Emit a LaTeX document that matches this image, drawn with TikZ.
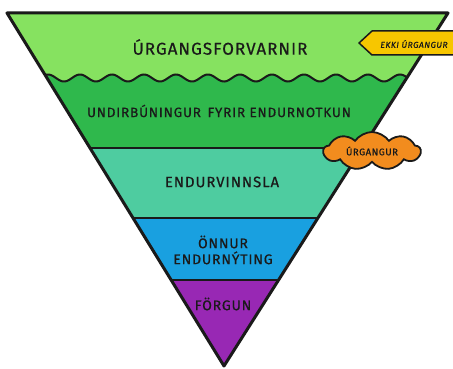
\documentclass[tikz,border=0pt]{standalone}
\usepackage{fontspec}
\setmainfont{Fira Sans}
\newfontfamily\hand[LetterSpace=6,FakeBold=0.6]{Fira Sans}
\usetikzlibrary{shapes.symbols}
\definecolor{bandA}{HTML}{86E260}
\definecolor{bandB}{HTML}{2FB84C}
\definecolor{bandC}{HTML}{4ECCA0}
\definecolor{bandD}{HTML}{19A0E0}
\definecolor{bandE}{HTML}{9828B4}
\definecolor{signY}{HTML}{F7C600}
\definecolor{cloudO}{HTML}{F28C1E}
\definecolor{ink}{HTML}{1A1A1A}
\tikzset{
  lbl/.style={text=ink, inner sep=0pt, align=center},
  sep/.style={draw=ink, line width=2pt},
}
\begin{document}
\begin{tikzpicture}[x=1pt,y=-1pt]
\useasboundingbox (0,0) rectangle (453,369);
\fill[white] (0,0) rectangle (453,369);
\coordinate (TL) at (7,13);
\coordinate (TR) at (448,13);
\coordinate (B) at (224,366);
\begin{scope}
  \clip (TL) -- (TR) -- (B) -- cycle;
  \fill[bandA] (0,0) rectangle (453,90);
  \fill[bandB] plot[domain=0:453,samples=300] (\x,{78+3.5*cos(\x*11.25)}) -- (453,148) -- (0,148) -- cycle;
  \fill[bandC] (0,148) rectangle (453,218);
  \fill[bandD] (0,218) rectangle (453,280);
  \fill[bandE] (0,280) rectangle (453,370);
  \draw[sep] plot[domain=0:453,samples=300] (\x,{78+3.5*cos(\x*11.25)});
  \draw[sep] (0,148) -- (453,148);
  \draw[sep] (0,218) -- (453,218);
  \draw[sep] (0,280) -- (453,280);
\end{scope}
\draw[ink, line width=3pt, line join=round] (TL) -- (TR) -- (B) -- cycle;

\node[lbl, font=\hand\fontsize{17}{17}\selectfont] (t1) at (220,47) {ÚRGANGSFORVARNIR};
\node[lbl, font=\hand\fontsize{13.5}{13.5}\selectfont] (t2) at (219,111) {UNDIRBÚNINGUR\, FYRIR ENDURNOTKUN};
\node[lbl, font=\hand\fontsize{15}{15}\selectfont] (t3) at (222,182) {ENDURVINNSLA};
\node[lbl, font=\hand\fontsize{14}{16}\selectfont] (t4) at (223,250) {ÖNNUR\\ENDURNÝTING};
\node[lbl, font=\hand\fontsize{14}{14}\selectfont] (t5) at (223,304) {FÖRGUN};

\draw[ink, fill=signY, line width=1.5pt, line join=round] (359,43) -- (372,31) -- (456,31) -- (456,55) -- (372,55) -- cycle;
\node[lbl, font=\hand\itshape\fontsize{8.5}{9}\selectfont] (s1) at (414,44) {EKKI ÚRGANGUR};

\node[cloud, cloud puffs=9, cloud puff arc=110, aspect=2.6, draw=ink, fill=cloudO, line width=1.8pt,
      minimum width=97pt, minimum height=38pt, inner sep=0pt] (c1) at (372,151) {};
\node[lbl, font=\hand\fontsize{9.5}{10}\selectfont] (c1t) at (c1) {ÚRGANGUR};
\end{tikzpicture}
\end{document}
